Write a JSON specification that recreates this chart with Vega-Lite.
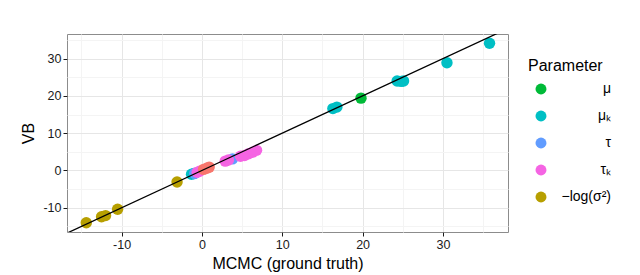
{
  "$schema": "https://vega.github.io/schema/vega-lite/v6.json",
  "width": 441,
  "height": 198,
  "autosize": {"type": "none"},
  "padding": {"left": 67, "top": 34, "right": 132, "bottom": 43},
  "background": "white",
  "config": {
    "font": "Liberation Sans",
    "view": {"stroke": "#8c8c8c", "strokeWidth": 1},
    "axis": {
      "labelFont": "Liberation Sans",
      "titleFont": "Liberation Sans",
      "labelFontSize": 12.5,
      "labelColor": "#1a1a1a",
      "titleFontSize": 16,
      "titleFontWeight": "normal",
      "titleColor": "#000000",
      "domain": false,
      "tickColor": "#1a1a1a",
      "tickWidth": 1,
      "tickSize": 4,
      "gridWidth": 1,
      "labelOverlap": false,
      "labelFlush": false
    }
  },
  "datasets": {
    "points": [
      {"param": "-log", "mcmc": -14.4, "vb": -14.0},
      {"param": "-log", "mcmc": -12.5, "vb": -12.4},
      {"param": "-log", "mcmc": -12.0, "vb": -12.1},
      {"param": "-log", "mcmc": -10.5, "vb": -10.4},
      {"param": "-log", "mcmc": -3.1, "vb": -3.1},
      {"param": "mu_k", "mcmc": -1.3, "vb": -1.0},
      {"param": "mu_k", "mcmc": -1.0, "vb": -0.8},
      {"param": "mu_k", "mcmc": 16.3, "vb": 16.6},
      {"param": "mu_k", "mcmc": 16.8, "vb": 17.0},
      {"param": "mu_k", "mcmc": 24.3, "vb": 24.0},
      {"param": "mu_k", "mcmc": 24.8, "vb": 23.9},
      {"param": "mu_k", "mcmc": 25.1, "vb": 24.0},
      {"param": "mu_k", "mcmc": 30.5, "vb": 28.9},
      {"param": "mu_k", "mcmc": 35.8, "vb": 34.1},
      {"param": "mu", "mcmc": 19.8, "vb": 19.4},
      {"param": "tau", "mcmc": 3.8, "vb": 3.1},
      {"param": "tau", "mcmc": -0.9, "vb": -0.8},
      {"param": "tau_k", "mcmc": -0.6, "vb": -0.5},
      {"param": "tau_k", "mcmc": -0.3, "vb": -0.2},
      {"param": "tau_k", "mcmc": 2.9, "vb": 2.5},
      {"param": "tau_k", "mcmc": 3.3, "vb": 2.8},
      {"param": "tau_k", "mcmc": 4.8, "vb": 3.8},
      {"param": "tau_k", "mcmc": 5.3, "vb": 4.0},
      {"param": "tau_k", "mcmc": 5.8, "vb": 4.5},
      {"param": "tau_k", "mcmc": 6.3, "vb": 4.9},
      {"param": "tau_k", "mcmc": 6.8, "vb": 5.4},
      {"param": "other", "mcmc": 0.2, "vb": 0.3},
      {"param": "other", "mcmc": 0.6, "vb": 0.6},
      {"param": "other", "mcmc": 0.9, "vb": 0.9}
    ],
    "identity": [
      {"mcmc": -20, "vb": -20},
      {"mcmc": 40, "vb": 40}
    ]
  },
  "resolve": {"axis": {"x": "independent", "y": "independent"}},
  "layer": [
    {
      "data": {"name": "identity"},
      "mark": {"type": "line", "opacity": 0, "clip": true},
      "encoding": {
        "x": {
          "field": "mcmc", "type": "quantitative",
          "scale": {"domain": [-16.8, 38.1], "nice": false, "zero": false},
          "axis": {
            "orient": "bottom", "values": [-15, -5, 5, 15, 25, 35],
            "grid": true, "gridColor": "#f4f4f4", "labels": false, "ticks": false, "title": null
          }
        },
        "y": {
          "field": "vb", "type": "quantitative",
          "scale": {"domain": [-16.5, 36.6], "nice": false, "zero": false},
          "axis": {
            "orient": "left", "values": [-15, -5, 5, 15, 25, 35],
            "grid": true, "gridColor": "#f4f4f4", "labels": false, "ticks": false, "title": null
          }
        }
      }
    },
    {
      "data": {"name": "points"},
      "mark": {"type": "circle", "size": 130, "opacity": 1},
      "encoding": {
        "x": {
          "field": "mcmc", "type": "quantitative",
          "axis": {
            "orient": "bottom",
            "title": "MCMC (ground truth)",
            "values": [-10, 0, 10, 20, 30],
            "labelExpr": "replace(datum.label, '−', '-')",
            "grid": true,
            "gridColor": "#e6e6e6",
            "labelPadding": 2,
            "titlePadding": 5
          }
        },
        "y": {
          "field": "vb", "type": "quantitative",
          "axis": {
            "orient": "left",
            "title": "VB",
            "values": [-10, 0, 10, 20, 30],
            "labelExpr": "replace(datum.label, '−', '-')",
            "grid": true,
            "gridColor": "#e6e6e6",
            "labelPadding": 2,
            "titlePadding": 6
          }
        },
        "color": {
          "field": "param", "type": "nominal",
          "scale": {
            "domain": ["mu", "mu_k", "tau", "tau_k", "-log", "other"],
            "range": ["#00BA38", "#00BFC4", "#619CFF", "#F564E3", "#B79F00", "#F8766D"]
          },
          "legend": {
            "title": "Parameter",
            "values": ["mu", "mu_k", "tau", "tau_k", "-log"],
            "labelExpr": "datum.value === 'mu' ? 'μ' : datum.value === 'mu_k' ? 'μₖ' : datum.value === 'tau' ? 'τ' : datum.value === 'tau_k' ? 'τₖ' : '−log(σ²)'",
            "orient": "none",
            "legendX": 461,
            "legendY": 24,
            "padding": 0,
            "titleFontSize": 16,
            "titleFontWeight": "normal",
            "titleColor": "#000000",
            "titleFont": "Liberation Sans",
            "titlePadding": 8,
            "labelFont": "Liberation Sans",
            "labelFontSize": 14,
            "labelColor": "#000000",
            "labelAlign": "right",
            "labelOffset": 63,
            "symbolType": "circle",
            "symbolSize": 120,
            "symbolOffset": 6,
            "symbolStrokeWidth": 0,
            "symbolOpacity": 1,
            "rowPadding": 13
          }
        }
      }
    },
    {
      "data": {"name": "identity"},
      "mark": {"type": "line", "color": "#000000", "strokeWidth": 1.3, "clip": true},
      "encoding": {
        "x": {"field": "mcmc", "type": "quantitative", "axis": null},
        "y": {"field": "vb", "type": "quantitative", "axis": null}
      }
    }
  ]
}
